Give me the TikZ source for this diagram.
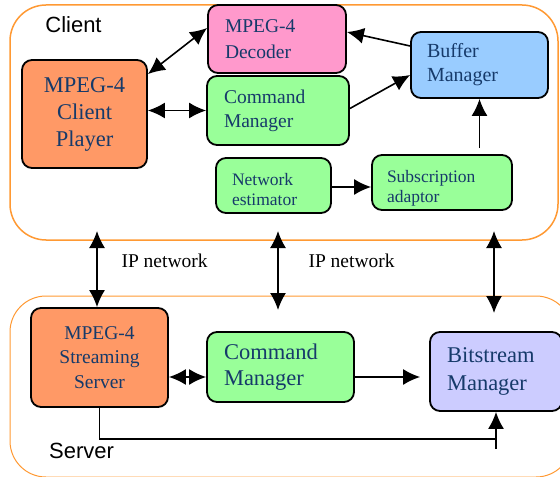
\documentclass[tikz,border=0pt]{standalone}
\usepackage{fontspec}
\setmainfont{Liberation Serif}
\newfontfamily\groupfont{Liberation Sans}
\usepackage{xcolor}
\usetikzlibrary{arrows.meta}
\definecolor{frameorange}{HTML}{FF9933}
\definecolor{txtblue}{HTML}{163A6A}
\definecolor{playerfill}{HTML}{FF9966}
\definecolor{decfill}{HTML}{FF99CC}
\definecolor{mgrfill}{HTML}{99FF99}
\definecolor{buffill}{HTML}{99CCFF}
\definecolor{bitfill}{HTML}{CCCCFF}
\tikzset{bigtip/.tip={Latex[length=17bp,width=16bp]}}

\begin{document}
\begin{tikzpicture}[x=1bp,y=-1bp,
  blk/.style={draw,line width=1.8bp,rounded corners=10bp,text=txtblue,inner ysep=0pt},
  link/.style={line width=1.6bp},
  grp/.style={rounded corners=36bp,draw=frameorange}]
  \useasboundingbox (0,0) rectangle (560,477);
  % Gruppen
  \draw[grp,line width=1.5bp] (10,5) rectangle (558,240);
  \begin{scope}
    \clip (0,0) rectangle (560,477);
    \draw[grp,line width=1bp] (10,296) rectangle (572,477);
  \end{scope}
  \node[anchor=base,font=\groupfont\fontsize{22bp}{26bp}\selectfont] (clientlbl) at (73.5,33) {Client};
  \node[anchor=base,font=\groupfont\fontsize{22bp}{26bp}\selectfont] (serverlbl) at (81.5,458) {Server};
  % Client-Bloecke
  \node[blk,fill=playerfill,minimum width=125bp,minimum height=108bp,align=center,
        font=\fontsize{22.5bp}{27bp}\selectfont] (player) at (84.5,114) {MPEG-4\\Client\\Player};
  \node[blk,fill=decfill,text width=104bp,inner xsep=17bp,minimum height=68bp,align=left,
        font=\fontsize{19.5bp}{26bp}\selectfont] (decoder) at (277,39) {MPEG-4\\Decoder};
  \node[blk,fill=mgrfill,text width=108bp,inner xsep=17bp,minimum height=69bp,align=left,
        font=\fontsize{19.5bp}{24bp}\selectfont] (cmdc) at (278,110.5) {Command\\Manager};
  \node[blk,fill=buffill,text width=105bp,inner xsep=16bp,minimum height=66bp,align=left,
        font=\fontsize{20bp}{24bp}\selectfont] (buffer) at (479.5,65) {Buffer\\Manager};
  \node[blk,fill=mgrfill,text width=83bp,inner xsep=16bp,minimum height=55bp,align=left,
        text height=21bp,text depth=20bp,
        font=\fontsize{17.5bp}{20bp}\selectfont] (net) at (273.5,185.5) {Network\\estimator};
  \node[blk,fill=mgrfill,text width=110bp,inner xsep=15bp,minimum height=55bp,align=left,
        text height=20bp,text depth=20bp,
        font=\fontsize{17.5bp}{20bp}\selectfont] (sub) at (442,182.5) {Subscription\\adaptor};
  % Server-Bloecke
  \node[blk,fill=playerfill,minimum width=137bp,minimum height=99bp,align=center,
        font=\fontsize{19.5bp}{24.5bp}\selectfont] (stream) at (99.5,357.5) {MPEG-4\\Streaming\\Server};
  \node[blk,fill=mgrfill,text width=113bp,inner xsep=17bp,minimum height=70bp,align=left,
        font=\fontsize{22.5bp}{26bp}\selectfont] (scmd) at (280.5,367) {Command\\Manager};
  \node[blk,fill=bitfill,text width=98bp,inner xsep=17bp,minimum height=79bp,align=left,
        font=\fontsize{22.5bp}{28bp}\selectfont] (bit) at (496,371.5) {Bitstream\\Manager};
  % Pfeile im Client
  \draw[link,bigtip-bigtip] ([yshift=-15bp]player.north east) -- ([yshift=11bp]decoder.west);
  \draw[link,bigtip-bigtip] (player.east |- cmdc.west) -- (cmdc.west);
  \draw[link,-bigtip] ([yshift=19bp]buffer.west) -- ([yshift=7bp]decoder.east);
  \draw[link,-bigtip] ([yshift=2bp]cmdc.east) -- ([yshift=-10bp]buffer.west);
  \draw[link,-bigtip] ([yshift=6bp]sub.north -| buffer.south) -- (buffer.south);
  \draw[link,-bigtip] ([yshift=-1.5bp]net.east) -- ([yshift=-1.5bp]net.east -| sub.west);
  % IP network
  \coordinate (ipatop) at (97,231);
  \coordinate (ipbtop) at (278,231);
  \coordinate (ipbbot) at (278,310);
  \coordinate (ipctop) at (494,231);
  \coordinate (ipcbot) at (494,313);
  \draw[link,bigtip-bigtip] (ipatop) -- (ipatop |- stream.north);
  \draw[link,bigtip-bigtip] (ipbtop) -- (ipbbot);
  \draw[link,bigtip-bigtip] (ipctop) -- (ipcbot);
  \node[anchor=base west,font=\fontsize{19.5bp}{23bp}\selectfont] (ipl1) at (118,267) {IP network};
  \node[anchor=base west,font=\fontsize{19.5bp}{23bp}\selectfont] (ipl2) at (305,267) {IP network};
  % Pfeile im Server
  \coordinate (scmdlow) at ([yshift=-10bp]scmd.west);
  \coordinate (scmdout) at ([yshift=-10bp]scmd.east);
  \draw[link,bigtip-bigtip] (stream.east |- scmdlow) -- (scmdlow);
  \draw[link,-bigtip,shorten >=9bp] (scmdout) -- (scmdout -| bit.west);
  \coordinate (bitfoot) at (496,439);
  \draw[link] (stream.south) |- (bitfoot);
  \draw[link,-bigtip] ([yshift=-10bp]bitfoot) -- (bitfoot |- bit.south);
\end{tikzpicture}
\end{document}
